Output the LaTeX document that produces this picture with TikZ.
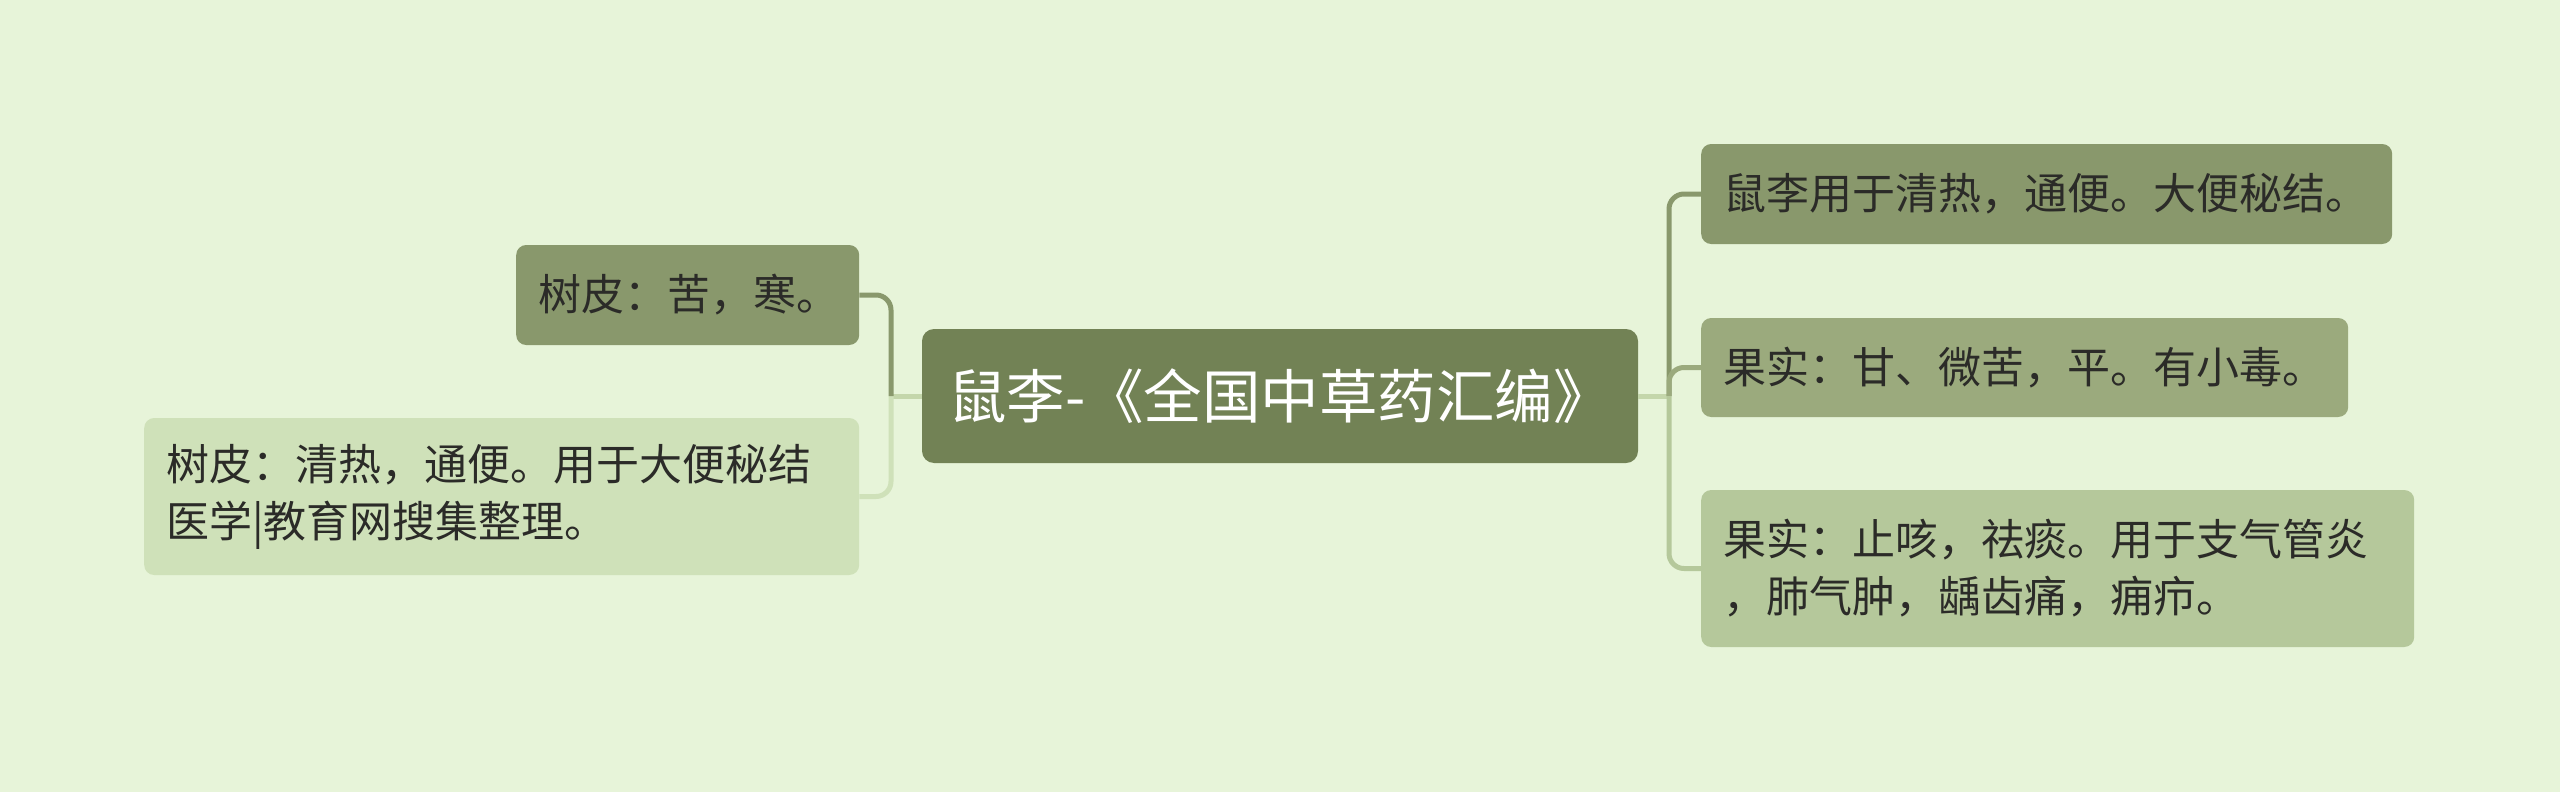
\documentclass[tikz,border=0pt]{standalone}
\usepackage{fontspec}
\setmainfont{Noto Sans CJK SC}
\definecolor{bg}{HTML}{E7F4D9}
\definecolor{cmain}{HTML}{728255}
\definecolor{cdark}{HTML}{89986C}
\definecolor{cmid}{HTML}{9BAA7D}
\definecolor{clight}{HTML}{B5C89B}
\definecolor{cpale}{HTML}{CFE1B9}
\definecolor{cstub}{HTML}{C4D6AB}
\definecolor{ctext}{HTML}{2B2B28}
\tikzset{
  topic/.style={rounded corners=10pt, inner xsep=22pt, inner ysep=0pt, anchor=west,
    align=left, text=ctext, font=\fontsize{43}{57}\selectfont},
  rootbox/.style={rounded corners=12pt, fill=cmain, text=white, inner sep=0pt,
    minimum width=716pt, minimum height=134pt, font=\fontsize{58.5}{66}\selectfont},
  link/.style={line width=5pt, rounded corners=15pt},
}
\begin{document}
\begin{tikzpicture}[x=1pt,y=-1pt]
\useasboundingbox (0,0) rectangle (2560,792);
\fill[bg] (0,0) rectangle (2560,792);
% root
\node[rootbox] (root) at (1280,396) {鼠李-《全国中草药汇编》};
% left topics
\node[topic, fill=cdark, text width=299pt, minimum height=100pt] (lt) at (516,295) {树皮：苦，寒。};
\node[topic, fill=cpale, text width=671pt, minimum height=157pt] (lb) at (144,496.5) {树皮：清热，通便。用于大便秘结\\医学|教育网搜集整理。};
% right topics
\node[topic, fill=cdark, text width=647pt, minimum height=100pt] (r1) at (1701,194) {鼠李用于清热，通便。大便秘结。};
\node[topic, fill=cmid, text width=603pt, minimum height=99pt] (r2) at (1701,367.5) {果实：甘、微苦，平。有小毒。};
\node[topic, fill=clight, text width=669pt, minimum height=157pt] (r3) at (1701,568.5) {果实：止咳，祛痰。用于支气管炎\\，肺气肿，龋齿痛，痈疖。};
% junctions
\coordinate (jl) at (891,396);
\coordinate (jr) at (1669,396);
% connectors
\draw[line width=5pt, cstub] (root.west) -- (jl);
\draw[line width=5pt, cstub] (root.east) -- (jr);
\draw[link, cpale] (jl) |- (lb.east);
\draw[link, cdark] (jl) |- (lt.east);
\draw[link, cdark] (jr) |- (r1.west);
\draw[link, cmid] (jr) |- (r2.west);
\draw[link, clight] (jr) |- (r3.west);
\end{tikzpicture}
\end{document}
